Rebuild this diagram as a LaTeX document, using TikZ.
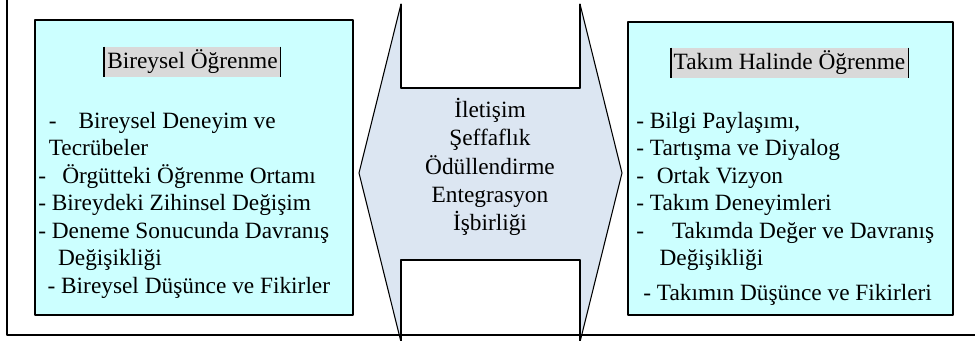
\documentclass[tikz,border=0pt]{standalone}
\usepackage{fontspec}
\setmainfont{Liberation Serif}
\definecolor{boxcyan}{RGB}{204,255,255}
\definecolor{titlegray}{RGB}{217,217,217}
\definecolor{arrowblue}{RGB}{220,230,242}
\begin{document}
\begin{tikzpicture}[x=.75pt,y=-.75pt,line join=round,
	panel/.style={draw,line width=1.2pt,fill=boxcyan},
	titlebox/.style={fill=titlegray,inner xsep=2pt,inner ysep=0pt,minimum height=22.5pt,font=\fontsize{17.5}{21}\selectfont},
	itemlist/.style={align=left,inner sep=0pt,anchor=north west,font=\fontsize{17.5}{20.6}\selectfont}]
			\useasboundingbox (0,0) rectangle (975,341);
			\coordinate (L) at (359,173);
			\coordinate (TL) at (401,4);
			\coordinate (TLi) at (401,88);
			\coordinate (TRi) at (580,88);
			\coordinate (TR) at (580,4);
			\coordinate (R) at (622,173);
			\coordinate (BR) at (580,342);
			\coordinate (BRi) at (580,260);
			\coordinate (BLi) at (401,260);
			\coordinate (BL) at (401,342);
			\draw[fill=arrowblue,line width=.8pt] (L)--(TL)--(TLi)--(TRi)--(TR)--(R)--(BR)--(BRi)--(BLi)--(BL)--cycle;
			\fill[white] (TLi) rectangle (TR) (BLi) rectangle (BR);
			\draw[line width=.8pt] (TL)--(TLi)--(TRi)--(TR) (BL)--(BLi)--(BRi)--(BR);
			\draw[panel] (35,20) rectangle (353,315);
			\draw[panel] (628,22) rectangle (953,315);
			\draw[line width=1.2pt] (7,0)--(7,335)--(975,335);
			% basliklar
			\node[titlebox] (bireysel) at (192.5,62) {Bireysel Öğrenme};
			\node[titlebox] (takim) at (789.5,63) {Takım Halinde Öğrenme};
			\draw[line width=1.4pt] (bireysel.north west)--(bireysel.south west) (takim.north west)--(takim.south west);
			\draw[line width=.5pt] (bireysel.north east)--(bireysel.south east) (takim.north east)--(takim.south east);
			% listeler
			\node[itemlist] (bireyliste) at (38,112) {\hspace{.45em}-\hspace{.95em}Bireysel Deneyim ve\\
				\hspace{.45em}Tecrübeler\\
				-\hspace{.7em}Örgütteki Öğrenme Ortamı\\
				- Bireydeki Zihinsel Değişim\\
				- Deneme Sonucunda Davranış\\
				\hspace{.85em}Değişikliği\\
				\hspace{.4em}- Bireysel Düşünce ve Fikirler};
			\node[itemlist] (takimliste) at (636,112) {- Bilgi Paylaşımı,\\
				- Tartışma ve Diyalog\\
				-\hspace{.55em}Ortak Vizyon\\
				- Takım Deneyimleri\\
				-\hspace{1.2em}Takımda Değer ve Davranış\\
				\hspace{1em}Değişikliği\\[5.7pt]
				\hspace{.3em}- Takımın Düşünce ve Fikirleri};
			\node[align=center,inner sep=0pt,font=\fontsize{17.5}{21.2}\selectfont] (ortak) at (490,167) {İletişim\\Şeffaflık\\Ödüllendirme\\Entegrasyon\\İşbirliği};
		\end{tikzpicture}
\end{document}
